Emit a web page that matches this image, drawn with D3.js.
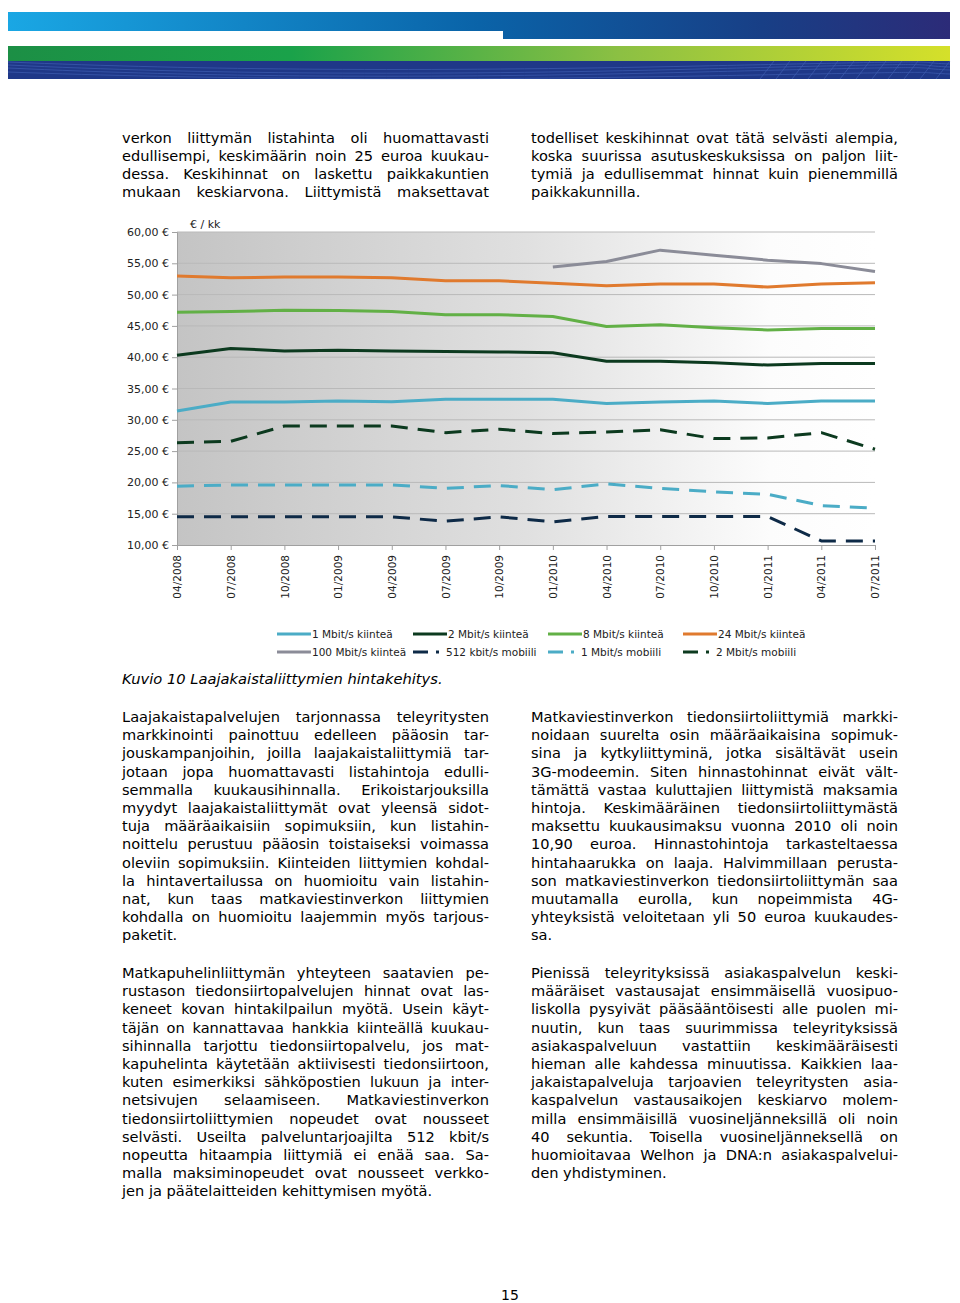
<!DOCTYPE html>
<html><head><meta charset="utf-8">
<script src="https://cdn.jsdelivr.net/npm/d3@7"></script>
<style>body{margin:0;background:#fff}svg{display:block}</style>
</head><body>
<svg id="page" width="960" height="1303"></svg>
<script>
const categories = ["04/2008","07/2008","10/2008","01/2009","04/2009","07/2009","10/2009","01/2010","04/2010","07/2010","10/2010","01/2011","04/2011","07/2011"];
const yTicks = [10,15,20,25,30,35,40,45,50,55,60];
const seriesNames = ["1 Mbit/s kiinteä","2 Mbit/s kiinteä","8 Mbit/s kiinteä","24 Mbit/s kiinteä","100 Mbit/s kiinteä","512 kbit/s mobiili","1 Mbit/s mobiili","2 Mbit/s mobiili"];
const fixed1 = [31.4,32.85,32.85,33.0,32.9,33.3,33.3,33.3,32.6,32.85,33.0,32.6,33.0,33.0];
const fixed2 = [40.3,41.4,41.0,41.1,41.0,40.9,40.85,40.7,39.35,39.35,39.1,38.75,39.0,39.0];
const fixed8 = [47.2,47.3,47.5,47.45,47.3,46.8,46.8,46.5,44.9,45.2,44.7,44.35,44.6,44.6];
const fixed24 = [52.97,52.7,52.8,52.8,52.7,52.2,52.2,51.8,51.4,51.7,51.7,51.2,51.7,51.9];
const fixed100 = [null,null,null,null,null,null,null,54.4,55.3,57.1,56.3,55.5,54.95,53.7];
const mob512 = [14.5,14.5,14.5,14.5,14.5,13.8,14.5,13.7,14.55,14.55,14.55,14.55,10.65,10.65];
const mob1 = [19.4,19.6,19.6,19.6,19.6,19.05,19.5,18.85,19.75,19.05,18.5,18.1,16.3,15.9];
const mob2 = [26.35,26.55,29.0,29.0,29.0,27.95,28.5,27.8,28.05,28.4,27.0,27.1,27.95,25.3];
const seriesValues = [fixed1,fixed2,fixed8,fixed24,fixed100,mob512,mob1,mob2];
const seriesColors = ["#4bacc6","#0c3a1f","#62b046","#e07a2e","#8b8c98","#0e2a47","#4bacc6","#0c3a1f"];
const seriesDashed = [false,false,false,false,false,true,true,true];

const textTopLeft = ["verkon liittymän listahinta oli huomattavasti","edullisempi, keskimäärin noin 25 euroa kuukau-","dessa. Keskihinnat on laskettu paikkakuntien","mukaan keskiarvona. Liittymistä maksettavat"];
const textTopRight = ["todelliset keskihinnat ovat tätä selvästi alempia,","koska suurissa asutuskeskuksissa on paljon liit-","tymiä ja edullisemmat hinnat kuin pienemmillä","paikkakunnilla."];
const textL1 = ["Laajakaistapalvelujen tarjonnassa teleyritysten","markkinointi painottuu edelleen pääosin tar-","jouskampanjoihin, joilla laajakaistaliittymiä tar-","jotaan jopa huomattavasti listahintoja edulli-","semmalla kuukausihinnalla. Erikoistarjouksilla","myydyt laajakaistaliittymät ovat yleensä sidot-","tuja määräaikaisiin sopimuksiin, kun listahin-","noittelu perustuu pääosin toistaiseksi voimassa","oleviin sopimuksiin. Kiinteiden liittymien kohdal-","la hintavertailussa on huomioitu vain listahin-","nat, kun taas matkaviestinverkon liittymien","kohdalla on huomioitu laajemmin myös tarjous-","paketit."];
const textL2 = ["Matkapuhelinliittymän yhteyteen saatavien pe-","rustason tiedonsiirtopalvelujen hinnat ovat las-","keneet kovan hintakilpailun myötä. Usein käyt-","täjän on kannattavaa hankkia kiinteällä kuukau-","sihinnalla tarjottu tiedonsiirtopalvelu, jos mat-","kapuhelinta käytetään aktiivisesti tiedonsiirtoon,","kuten esimerkiksi sähköpostien lukuun ja inter-","netsivujen selaamiseen. Matkaviestinverkon","tiedonsiirtoliittymien nopeudet ovat nousseet","selvästi. Useilta palveluntarjoajilta 512 kbit/s","nopeutta hitaampia liittymiä ei enää saa. Sa-","malla maksiminopeudet ovat nousseet verkko-","jen ja päätelaitteiden kehittymisen myötä."];
const textR1 = ["Matkaviestinverkon tiedonsiirtoliittymiä markki-","noidaan suurelta osin määräaikaisina sopimuk-","sina ja kytkyliittyminä, jotka sisältävät usein","3G-modeemin. Siten hinnastohinnat eivät vält-","tämättä vastaa kuluttajien liittymistä maksamia","hintoja. Keskimääräinen tiedonsiirtoliittymästä","maksettu kuukausimaksu vuonna 2010 oli noin","10,90 euroa. Hinnastohintoja tarkasteltaessa","hintahaarukka on laaja. Halvimmillaan perusta-","son matkaviestinverkon tiedonsiirtoliittymän saa","muutamalla eurolla, kun nopeimmista 4G-","yhteyksistä veloitetaan yli 50 euroa kuukaudes-","sa."];
const textR2 = ["Pienissä teleyrityksissä asiakaspalvelun keski-","määräiset vastausajat ensimmäisellä vuosipuo-","liskolla pysyivät pääsääntöisesti alle puolen mi-","nuutin, kun taas suurimmissa teleyrityksissä","asiakaspalveluun vastattiin keskimääräisesti","hieman alle kahdessa minuutissa. Kaikkien laa-","jakaistapalveluja tarjoavien teleyritysten asia-","kaspalvelun vastausaikojen keskiarvo molem-","milla ensimmäisillä vuosineljänneksillä oli noin","40 sekuntia. Toisella vuosineljänneksellä on","huomioitavaa Welhon ja DNA:n asiakaspalvelui-","den yhdistyminen."];
const caption = "Kuvio 10 Laajakaistaliittymien hintakehitys.";
const unitLabel = "€ / kk";
const pageNumber = "15";

const svg = d3.select("#page");
const defs = svg.append("defs");

// ---------- header ----------
const gBlue = defs.append("linearGradient").attr("id","gBlue").attr("gradientUnits","userSpaceOnUse").attr("x1",8).attr("x2",950).attr("y1",0).attr("y2",0);
gBlue.append("stop").attr("offset","0").attr("stop-color","#1aa7e4");
gBlue.append("stop").attr("offset","0.5").attr("stop-color","#0a63a8");
gBlue.append("stop").attr("offset","0.8").attr("stop-color","#183f86");
gBlue.append("stop").attr("offset","1").attr("stop-color","#2c2b78");
const gGreen = defs.append("linearGradient").attr("id","gGreen").attr("gradientUnits","userSpaceOnUse").attr("x1",8).attr("x2",950).attr("y1",0).attr("y2",0);
gGreen.append("stop").attr("offset","0").attr("stop-color","#1c8f45");
gGreen.append("stop").attr("offset","0.3").attr("stop-color","#1aa24a");
gGreen.append("stop").attr("offset","0.65").attr("stop-color","#8cc043");
gGreen.append("stop").attr("offset","1").attr("stop-color","#d5e02a");
const head = svg.append("g");
head.append("rect").attr("x",8).attr("y",12).attr("width",942).attr("height",19).attr("fill","url(#gBlue)");
head.append("rect").attr("x",503).attr("y",31).attr("width",447).attr("height",8).attr("fill","url(#gBlue)");
head.append("rect").attr("x",8).attr("y",46).attr("width",942).attr("height",15).attr("fill","url(#gGreen)");
head.append("rect").attr("x",8).attr("y",61).attr("width",942).attr("height",18).attr("fill","#1f3888");
const waves = head.append("g").attr("fill","none").attr("stroke","#4d6fc4").attr("stroke-width",0.8).attr("opacity",0.6);
[[62,70],[65,74],[68,77],[72,79]].forEach(([a,b])=>{
  waves.append("path").attr("d",`M8,${a} C200,${b} 420,${b+2} 700,${a+4} S900,${a} 950,${a+2}`);
});
for(let i=0;i<12;i++){ const x=760+i*16; waves.append("path").attr("d",`M${x},79 L${x+14},61`); }

// ---------- body text ----------
const bodyFont = "DejaVu Sans";
const bodySize = 14.6;
function justify(lines, x0, width, y0, lh, lastJustify){
  const g = svg.append("g").attr("font-family",bodyFont).attr("font-size",bodySize).attr("fill","#000");
  lines.forEach((line,i)=>{
    const y = y0 + i*lh;
    const words = line.split(" ");
    const t = g.append("text").attr("y",y);
    const spans = words.map(w=>t.append("tspan").text(w));
    let widths = spans.map(s=>s.node().getComputedTextLength());
    const total = d3.sum(widths);
    const isLast = (i===lines.length-1) && !lastJustify;
    let gap = 4.6;
    if(!isLast && words.length>1){
      gap = (width-total)/(words.length-1);
      if(gap < 3){
        gap = 3;
        const k = (width - gap*(words.length-1))/total;
        spans.forEach((s,j)=>{ s.attr("textLength",widths[j]*k).attr("lengthAdjust","spacingAndGlyphs"); });
        widths = widths.map(w=>w*k);
      }
    }
    let x = x0;
    spans.forEach((s,k)=>{ s.attr("x",x); x += widths[k]+gap; });
  });
}
justify(textTopLeft,122,367,143,18,true);
justify(textTopRight,531,367,143,18,false);
justify(textL1,122,367,722,18.2,false);
justify(textL2,122,367,978,18.2,false);
justify(textR1,531,367,722,18.2,false);
justify(textR2,531,367,978,18.2,false);

svg.append("text").attr("x",122).attr("y",684).attr("font-family",bodyFont).attr("font-size",14.7).attr("font-style","italic").text(caption);
svg.append("text").attr("x",510).attr("y",1300).attr("text-anchor","middle").attr("font-family",bodyFont).attr("font-size",14).text(pageNumber);

// ---------- chart ----------
const L=177, R=875, T=232, B=545;
const x = d3.scalePoint().domain(categories).range([L,R]);
const y = d3.scaleLinear().domain([10,60]).range([B,T]);
const gBg = defs.append("linearGradient").attr("id","gBg").attr("x1","0").attr("x2","1").attr("y1","0").attr("y2","0");
gBg.append("stop").attr("offset","0").attr("stop-color","#c4c4c4");
gBg.append("stop").attr("offset","0.5").attr("stop-color","#e0e0e0");
gBg.append("stop").attr("offset","0.85").attr("stop-color","#fcfcfc");
gBg.append("stop").attr("offset","1").attr("stop-color","#ffffff");
const chart = svg.append("g");
chart.append("rect").attr("x",L).attr("y",T).attr("width",R-L).attr("height",B-T).attr("fill","url(#gBg)");
chart.append("g").selectAll("line").data(yTicks.filter(v=>v>10)).join("line")
  .attr("x1",L).attr("x2",R).attr("y1",d=>y(d)).attr("y2",d=>y(d)).attr("stroke","#b9b9b9").attr("stroke-width",1);

const fmt = v => d3.format(".2f")(v).replace(".",",") + " €";
const yAxis = chart.append("g").attr("transform",`translate(${L},0)`)
  .call(d3.axisLeft(y).tickValues(yTicks).tickFormat(fmt).tickSize(5).tickPadding(3));
yAxis.select(".domain").attr("stroke","#a0a0a0");
yAxis.selectAll(".tick line").attr("stroke","#a0a0a0");
yAxis.selectAll("text").attr("font-family","DejaVu Sans").attr("font-size",11).attr("fill","#222");

const xAxis = chart.append("g").attr("transform",`translate(0,${B})`)
  .call(d3.axisBottom(x).tickSize(5).tickPadding(5));
xAxis.select(".domain").attr("stroke","#a0a0a0");
xAxis.selectAll(".tick line").attr("stroke","#a0a0a0");
xAxis.selectAll("text").attr("font-family","DejaVu Sans").attr("font-size",10.5).attr("fill","#222")
  .attr("transform","rotate(-90)").attr("text-anchor","end").attr("dx","-10").attr("dy","0.35em").attr("y",0).attr("x",0);

chart.append("text").attr("x",190).attr("y",228).attr("font-family","DejaVu Sans").attr("font-size",11).attr("fill","#222").text(unitLabel);

const line = d3.line().defined(d=>d!=null).x((d,i)=>x(categories[i])).y(d=>y(d));
const drawOrder = [5,6,7,0,1,2,3,4];
drawOrder.forEach(k=>{
  chart.append("path").attr("d",line(seriesValues[k])).attr("fill","none")
    .attr("stroke",seriesColors[k]).attr("stroke-width",3).attr("stroke-linejoin","round")
    .attr("stroke-dasharray",seriesDashed[k]?"17,10":null);
});

// ---------- legend ----------
const legX = [277,413,548,683];
const legY = [634,652];
const leg = svg.append("g").attr("font-family","DejaVu Sans").attr("font-size",10.5).attr("fill","#222");
seriesNames.forEach((n,k)=>{
  const r = Math.floor(k/4), c = k%4;
  const lx = legX[c], ly = legY[r];
  const len = seriesDashed[k] ? 26 : 34;
  leg.append("line").attr("x1",lx).attr("x2",lx+len).attr("y1",ly).attr("y2",ly)
    .attr("stroke",seriesColors[k]).attr("stroke-width",3).attr("stroke-dasharray",seriesDashed[k]?"15,8":null);
  leg.append("text").attr("x",lx+ (seriesDashed[k]?33:35)).attr("y",ly+4).text(n);
});
</script>
</body></html>
